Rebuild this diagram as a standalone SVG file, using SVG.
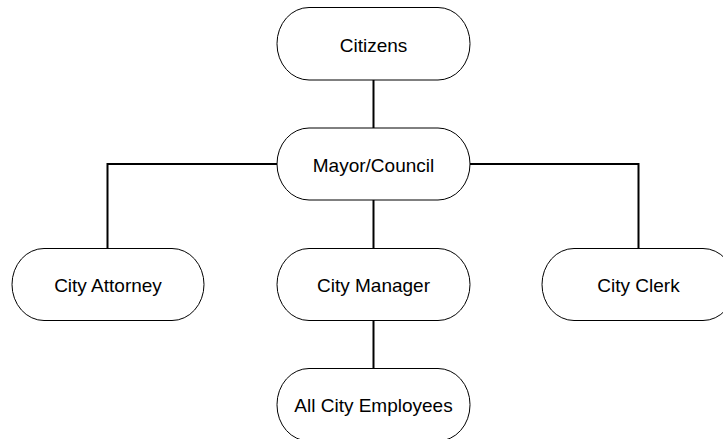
<svg xmlns="http://www.w3.org/2000/svg" width="723" height="439" viewBox="0 0 723 439">
  <style>
    .node rect { fill: #ffffff; stroke: #000000; stroke-width: 1; }
    .node text { font-family: "Liberation Sans", Arial, sans-serif; font-size: 19px; fill: #000000; text-anchor: middle; }
    .conn path { fill: none; stroke: #000000; stroke-width: 2; }
  </style>
  <rect x="0" y="0" width="723" height="439" fill="#ffffff"/>
  <g id="connectors" class="conn">
    <path d="M373.5,80 V128"/>
    <path d="M277,164 H107.5 V248"/>
    <path d="M470,164 H638.5 V248"/>
    <path d="M373.5,200 V248"/>
    <path d="M373.5,320 V368"/>
  </g>
  <g id="citizens" class="node">
    <rect x="277" y="7.5" width="193" height="72.5" rx="32" ry="36"/>
    <text x="373.5" y="51.5">Citizens</text>
  </g>
  <g id="mayor-council" class="node">
    <rect x="277" y="128" width="193" height="72" rx="32" ry="36"/>
    <text x="373.5" y="171.5">Mayor/Council</text>
  </g>
  <g id="city-attorney" class="node">
    <rect x="12" y="248.5" width="192" height="72" rx="32" ry="36"/>
    <text x="108" y="291.5">City Attorney</text>
  </g>
  <g id="city-manager" class="node">
    <rect x="277" y="248.5" width="193" height="72" rx="32" ry="36"/>
    <text x="373.5" y="291.5">City Manager</text>
  </g>
  <g id="city-clerk" class="node">
    <rect x="542" y="248.5" width="193" height="72" rx="32" ry="36"/>
    <text x="638.5" y="291.5">City Clerk</text>
  </g>
  <g id="all-city-employees" class="node">
    <rect x="277" y="368.5" width="193" height="72.5" rx="32" ry="36"/>
    <text x="373.5" y="411.5">All City Employees</text>
  </g>
</svg>
